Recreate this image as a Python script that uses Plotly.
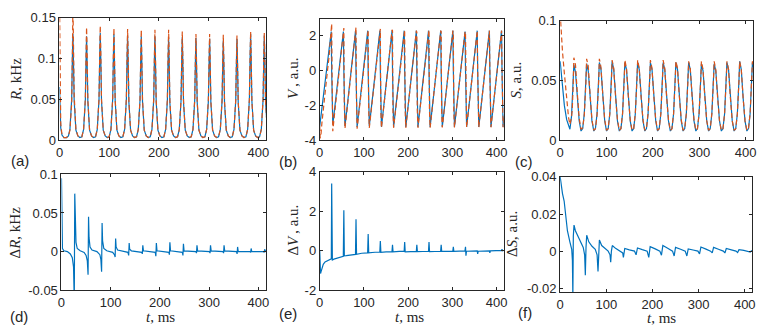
import plotly.graph_objects as go
from plotly.subplots import make_subplots

# --- data ------------------------------------------------------------------
# spike times of the oscillation (ms) and sample offsets around each spike
spike_t = [27.0, 54.5, 82.0, 109.5, 137.0, 164.5, 192.0, 219.5, 247.0,
           274.5, 302.0, 329.5, 357.0, 384.5, 412.0]
offsets = [-6, -2.5, -1, 0, 1, 2.5, 6, 10, 14, 18]
t_start = [0, 1, 2.5, 5, 9, 14, 18]

# R (kHz): first row = t_start, then one row per spike (at offsets)
r_blue = [
    [0.065, 0.035, 0.015, 0.006, 0.003, 0.003, 0.005],
    [0.013, 0.050, 0.104, 0.130, 0.100, 0.048, 0.012, 0.005, 0.003, 0.004],
    [0.013, 0.049, 0.101, 0.127, 0.098, 0.047, 0.012, 0.005, 0.003, 0.004],
    [0.013, 0.050, 0.105, 0.131, 0.101, 0.048, 0.012, 0.005, 0.003, 0.004],
    [0.013, 0.050, 0.104, 0.130, 0.100, 0.048, 0.012, 0.005, 0.003, 0.004],
    [0.013, 0.049, 0.102, 0.128, 0.099, 0.047, 0.012, 0.005, 0.003, 0.004],
    [0.013, 0.049, 0.101, 0.127, 0.098, 0.047, 0.012, 0.005, 0.003, 0.004],
    [0.013, 0.049, 0.101, 0.127, 0.098, 0.047, 0.012, 0.005, 0.003, 0.004],
    [0.013, 0.048, 0.100, 0.126, 0.097, 0.046, 0.012, 0.005, 0.003, 0.004],
    [0.013, 0.048, 0.100, 0.126, 0.097, 0.046, 0.012, 0.005, 0.003, 0.004],
    [0.013, 0.048, 0.099, 0.125, 0.096, 0.046, 0.012, 0.005, 0.003, 0.004],
    [0.013, 0.048, 0.098, 0.124, 0.096, 0.046, 0.012, 0.005, 0.003, 0.004],
    [0.013, 0.047, 0.097, 0.122, 0.094, 0.045, 0.012, 0.005, 0.003, 0.004],
    [0.013, 0.048, 0.098, 0.124, 0.096, 0.046, 0.012, 0.005, 0.003, 0.004],
    [0.013, 0.050, 0.104, 0.130, 0.100, 0.048, 0.012, 0.005, 0.003, 0.004],
    [0.013, 0.049, 0.102, 0.128, 0.099, 0.047, 0.012, 0.005, 0.003, 0.004],
]
r_orange = [
    [0.170, 0.070, 0.020, 0.006, 0.003, 0.003, 0.005],
    [0.012, 0.045, 0.110, 0.165, 0.125, 0.055, 0.013, 0.005, 0.003, 0.004],
    [0.013, 0.051, 0.108, 0.138, 0.108, 0.050, 0.012, 0.005, 0.003, 0.004],
    [0.013, 0.051, 0.110, 0.140, 0.110, 0.050, 0.012, 0.005, 0.003, 0.004],
    [0.013, 0.051, 0.108, 0.137, 0.107, 0.050, 0.012, 0.005, 0.003, 0.004],
    [0.013, 0.051, 0.107, 0.136, 0.106, 0.049, 0.012, 0.005, 0.003, 0.004],
    [0.013, 0.050, 0.106, 0.135, 0.105, 0.049, 0.012, 0.005, 0.003, 0.004],
    [0.013, 0.050, 0.106, 0.135, 0.105, 0.049, 0.012, 0.005, 0.003, 0.004],
    [0.013, 0.050, 0.106, 0.135, 0.105, 0.049, 0.012, 0.005, 0.003, 0.004],
    [0.013, 0.050, 0.105, 0.133, 0.104, 0.048, 0.012, 0.005, 0.003, 0.004],
    [0.013, 0.050, 0.103, 0.130, 0.101, 0.048, 0.012, 0.005, 0.003, 0.004],
    [0.013, 0.050, 0.103, 0.130, 0.101, 0.048, 0.012, 0.005, 0.003, 0.004],
    [0.013, 0.049, 0.102, 0.129, 0.100, 0.047, 0.012, 0.005, 0.003, 0.004],
    [0.013, 0.049, 0.101, 0.128, 0.100, 0.047, 0.012, 0.005, 0.003, 0.004],
    [0.013, 0.050, 0.105, 0.133, 0.104, 0.048, 0.012, 0.005, 0.003, 0.004],
    [0.013, 0.050, 0.103, 0.131, 0.102, 0.048, 0.012, 0.005, 0.003, 0.004],
]

# V (a.u.)
v_blue = [
    [-3.20, -2.99, -2.68, -2.15, -1.31, -0.26, 0.58],
    [1.21, 1.95, 2.25, 0.00, -2.30, -3.10, -2.35, -1.45, -0.55, 0.35],
    [1.10, 1.95, 2.25, 0.00, -2.40, -3.20, -2.42, -1.52, -0.62, 0.28],
    [1.08, 1.95, 2.30, 0.00, -2.40, -3.25, -2.45, -1.55, -0.65, 0.25],
    [1.05, 1.93, 2.30, 0.00, -2.40, -3.20, -2.42, -1.52, -0.62, 0.28],
    [1.08, 1.95, 2.30, 0.00, -2.40, -3.25, -2.45, -1.55, -0.65, 0.25],
    [1.05, 1.93, 2.30, 0.00, -2.40, -3.25, -2.45, -1.55, -0.65, 0.25],
    [1.05, 1.93, 2.30, 0.00, -2.40, -3.25, -2.45, -1.55, -0.65, 0.25],
    [1.05, 1.93, 2.30, 0.00, -2.40, -3.25, -2.45, -1.55, -0.65, 0.25],
    [1.05, 1.93, 2.30, 0.00, -2.40, -3.25, -2.45, -1.55, -0.65, 0.25],
    [1.05, 1.93, 2.30, 0.00, -2.40, -3.25, -2.45, -1.55, -0.65, 0.25],
    [1.05, 1.93, 2.30, 0.00, -2.40, -3.25, -2.45, -1.55, -0.65, 0.25],
    [1.05, 1.90, 2.25, 0.00, -2.40, -3.25, -2.45, -1.55, -0.65, 0.25],
    [1.05, 1.93, 2.30, 0.00, -2.40, -3.25, -2.45, -1.55, -0.65, 0.25],
    [1.05, 1.93, 2.30, 0.00, -2.40, -3.25, -2.45, -1.55, -0.65, 0.25],
    [1.05, 1.93, 2.30, 0.00, -2.40, -3.25, -2.45, -1.55, -0.65, 0.25],
]
v_orange = [
    [-3.20, -3.90, -3.78, -3.00, -1.93, -0.78, 0.11],
    [0.77, 1.75, 2.30, 2.70, -0.50, -3.50, -2.62, -1.68, -0.76, 0.14],
    [0.86, 1.80, 2.30, 2.45, -1.80, -3.35, -2.55, -1.63, -0.72, 0.18],
    [0.90, 1.85, 2.35, 2.50, -1.60, -3.35, -2.55, -1.63, -0.72, 0.18],
    [0.95, 1.85, 2.30, 2.35, -2.10, -3.30, -2.50, -1.60, -0.70, 0.20],
    [1.00, 1.90, 2.35, 2.40, -2.20, -3.30, -2.50, -1.60, -0.70, 0.20],
    [1.00, 1.90, 2.35, 2.30, -2.30, -3.30, -2.50, -1.60, -0.70, 0.20],
    [1.00, 1.90, 2.35, 2.35, -2.25, -3.30, -2.48, -1.58, -0.68, 0.22],
    [1.03, 1.92, 2.30, 2.20, -2.30, -3.30, -2.48, -1.58, -0.68, 0.22],
    [1.03, 1.92, 2.35, 2.35, -2.25, -3.30, -2.48, -1.58, -0.68, 0.22],
    [1.03, 1.92, 2.30, 2.25, -2.30, -3.28, -2.47, -1.57, -0.67, 0.23],
    [1.04, 1.92, 2.30, 2.20, -2.35, -3.28, -2.47, -1.57, -0.67, 0.23],
    [1.04, 1.92, 2.25, 2.10, -2.40, -3.28, -2.47, -1.57, -0.67, 0.23],
    [1.04, 1.92, 2.30, 0.00, -2.60, -3.28, -2.47, -1.57, -0.67, 0.23],
    [1.05, 1.93, 2.30, 0.00, -2.50, -3.27, -2.46, -1.56, -0.66, 0.24],
    [1.05, 1.93, 2.30, 0.10, -2.40, -3.27, -2.46, -1.56, -0.66, 0.24],
]

# S (a.u.)
s_blue = [
    [0.066, 0.062, 0.055, 0.044, 0.029, 0.017, 0.011],
    [0.009, 0.020, 0.030, 0.040, 0.049, 0.063, 0.057, 0.034, 0.016, 0.0075],
    [0.0095, 0.022, 0.032, 0.041, 0.050, 0.064, 0.058, 0.035, 0.016, 0.0075],
    [0.0095, 0.022, 0.032, 0.041, 0.050, 0.065, 0.059, 0.035, 0.016, 0.0075],
    [0.0095, 0.022, 0.032, 0.041, 0.050, 0.066, 0.059, 0.035, 0.016, 0.0075],
    [0.0095, 0.022, 0.032, 0.041, 0.050, 0.065, 0.059, 0.035, 0.016, 0.0075],
    [0.0095, 0.022, 0.032, 0.041, 0.050, 0.065, 0.059, 0.035, 0.016, 0.0075],
    [0.0095, 0.022, 0.032, 0.041, 0.050, 0.065, 0.059, 0.035, 0.016, 0.0075],
    [0.0095, 0.022, 0.032, 0.041, 0.050, 0.065, 0.059, 0.035, 0.016, 0.0075],
    [0.0095, 0.022, 0.032, 0.041, 0.050, 0.065, 0.059, 0.035, 0.016, 0.0075],
    [0.0095, 0.022, 0.032, 0.041, 0.050, 0.065, 0.059, 0.035, 0.016, 0.0075],
    [0.0095, 0.022, 0.032, 0.041, 0.050, 0.064, 0.058, 0.035, 0.016, 0.0075],
    [0.0095, 0.022, 0.032, 0.041, 0.050, 0.064, 0.058, 0.035, 0.016, 0.0075],
    [0.0095, 0.022, 0.032, 0.041, 0.050, 0.065, 0.059, 0.035, 0.016, 0.0075],
    [0.0095, 0.022, 0.032, 0.041, 0.050, 0.066, 0.059, 0.035, 0.016, 0.0075],
    [0.0095, 0.022, 0.032, 0.041, 0.050, 0.065, 0.059, 0.035, 0.016, 0.0075],
]
s_orange = [
    [0.106, 0.099, 0.089, 0.074, 0.056, 0.032, 0.019],
    [0.013, 0.019, 0.025, 0.033, 0.045, 0.069, 0.063, 0.039, 0.018, 0.009],
    [0.010, 0.021, 0.030, 0.038, 0.048, 0.068, 0.062, 0.038, 0.017, 0.008],
    [0.0095, 0.021, 0.031, 0.039, 0.049, 0.068, 0.061, 0.037, 0.017, 0.008],
    [0.0095, 0.022, 0.031, 0.040, 0.049, 0.067, 0.060, 0.036, 0.017, 0.008],
    [0.0095, 0.022, 0.032, 0.040, 0.050, 0.067, 0.060, 0.036, 0.017, 0.008],
    [0.0095, 0.022, 0.032, 0.040, 0.050, 0.067, 0.060, 0.036, 0.017, 0.008],
    [0.0095, 0.022, 0.032, 0.040, 0.050, 0.067, 0.060, 0.036, 0.017, 0.008],
    [0.0095, 0.022, 0.032, 0.040, 0.050, 0.067, 0.060, 0.036, 0.017, 0.008],
    [0.0095, 0.022, 0.032, 0.041, 0.050, 0.066, 0.060, 0.036, 0.017, 0.008],
    [0.0095, 0.022, 0.032, 0.041, 0.050, 0.066, 0.060, 0.036, 0.017, 0.008],
    [0.0095, 0.022, 0.032, 0.041, 0.050, 0.066, 0.059, 0.035, 0.016, 0.008],
    [0.0095, 0.022, 0.032, 0.041, 0.050, 0.066, 0.059, 0.035, 0.016, 0.008],
    [0.0095, 0.022, 0.032, 0.041, 0.050, 0.066, 0.059, 0.035, 0.016, 0.008],
    [0.0095, 0.022, 0.032, 0.041, 0.050, 0.066, 0.059, 0.035, 0.016, 0.008],
    [0.0095, 0.022, 0.032, 0.041, 0.050, 0.066, 0.059, 0.035, 0.016, 0.008],
]

# differences (bottom row)
dr_t = [0, 0.8, 2, 5, 12, 18, 22, 24.5, 26, 27, 28, 29.5, 32, 38, 46, 50, 52.5,
        54, 55, 56, 58, 62, 72, 78, 80, 81.5, 82.5, 83.5, 86, 92, 104, 107.5,
        109, 110, 111, 114, 125, 135, 136.5, 137.5, 138.5, 142, 163, 164.2,
        165.2, 166.5, 190.5, 191.7, 192.7, 194, 218, 219.2, 220.2, 221.5, 245.5,
        246.7, 247.7, 249, 273, 274.2, 275.2, 276.5, 300.5, 301.7, 302.7, 304,
        328, 329.2, 330.2, 331.5, 355.5, 356.7, 357.7, 359, 383, 384.2, 385.2,
        386.5, 410.5, 411.7, 412.7, 414, 416]
dr_val = [0.095, 0.030, 0.004, 0.001, 0.0, -0.003, -0.008, -0.020, -0.065, 0.075,
          0.035, 0.012, 0.004, 0.001, -0.001, -0.005, -0.012, -0.030, 0.045,
          0.018, 0.006, 0.002, 0.0, -0.004, -0.010, -0.026, 0.037, 0.014, 0.004,
          0.001, -0.001, -0.004, -0.007, 0.017, 0.006, 0.002, 0.0, -0.001,
          -0.005, 0.011, 0.003, 0.001, -0.001, -0.003, 0.008, 0.001, -0.001,
          -0.006, 0.011, 0.001, -0.001, -0.004, 0.012, 0.001, -0.001, -0.005,
          0.010, 0.001, 0.0, -0.002, 0.008, 0.001, 0.0, -0.002, 0.008, 0.001,
          0.0, -0.002, 0.008, 0.001, 0.0, -0.003, 0.006, 0.0, 0.0, -0.001,
          0.004, 0.0, 0.0, -0.001, 0.003, 0.0, 0.001]

dv_t = [0, 0.7, 1.8, 3, 5, 8, 12, 18, 25, 26.2, 27, 27.8, 28.6, 32, 40, 53.3,
        54.5, 55.6, 60, 70, 80.8, 82, 83.2, 95, 108.3, 109.5, 110.7, 125, 135.8,
        137, 138.2, 150, 163.3, 164.5, 165.7, 180, 190.8, 192, 193.2, 218.3,
        219.5, 220.7, 245.8, 247, 248.2, 273.3, 274.5, 275.7, 300.8, 302, 303.2,
        328.3, 329.5, 330.5, 331.7, 356, 357, 358.2, 383.5, 384.5, 385.7, 411,
        412, 413, 416]
dv_val = [0.0, -0.80, -1.15, -1.05, -0.85, -0.68, -0.56, -0.48, -0.42, -0.40,
          3.40, -0.35, -0.46, -0.42, -0.36, -0.28, 2.05, -0.25, -0.24, -0.20,
          -0.18, 1.60, -0.17, -0.12, -0.10, 0.85, -0.10, -0.07, -0.06, 0.50,
          -0.07, -0.05, -0.04, 0.30, -0.05, -0.03, -0.03, 0.45, -0.05, -0.03,
          0.30, -0.04, -0.02, 0.45, -0.04, -0.02, 0.30, -0.03, -0.01, 0.20,
          -0.03, 0.0, 0.20, -0.25, -0.02, 0.0, -0.15, -0.02, 0.0, -0.10, 0.0,
          0.02, 0.08, 0.0, 0.02]

ds_t = [0, 2, 5, 8.6, 12, 15.7, 21, 25, 26.5, 27.5, 28.5, 30, 33, 38.6, 45, 50,
        53, 54.5, 56, 57.5, 62, 69, 76, 80, 82, 83.5, 85, 90, 98, 104, 108,
        109.5, 111, 113, 120, 130, 135.5, 137, 138.5, 140, 150, 161, 164.5, 166,
        167.5, 178, 188.5, 192, 193.5, 195, 206, 216, 219.5, 221, 222.5, 233,
        243.5, 247, 248.5, 250, 261, 271, 274.5, 276, 277.5, 288, 298.5, 302,
        303.5, 305, 316, 326, 329.5, 331, 332.5, 343, 353.5, 357, 358.5, 360,
        371, 381, 384.5, 386, 387.5, 398, 408.5, 412, 413.5, 416]
ds_val = [0.040, 0.036, 0.031, 0.027, 0.020, 0.011, 0.005, 0.001, -0.005,
          -0.025, 0.008, 0.014, 0.011, 0.0078, 0.005, 0.002, -0.002, -0.013,
          0.002, 0.0086, 0.005, 0.0026, 0.001, -0.002, -0.011, 0.0, 0.006, 0.003,
          0.0014, 0.0, -0.002, -0.006, 0.0, 0.003, 0.0015, 0.0, -0.001, -0.0034,
          0.0, 0.0014, 0.0007, 0.0, -0.002, 0.0, 0.0017, 0.0008, 0.0, -0.0034,
          0.0, 0.0024, 0.0012, 0.0, -0.0022, 0.0, 0.003, 0.0015, 0.0, -0.0026,
          0.0, 0.002, 0.001, 0.0, -0.0026, 0.0, 0.0012, 0.0006, 0.0, -0.0015,
          0.0, 0.0022, 0.0011, 0.0, -0.001, 0.0, 0.002, 0.001, 0.0, -0.001, 0.0,
          0.0014, 0.0007, 0.0, -0.0008, 0.0, 0.0008, 0.0004, 0.0, -0.0005, 0.0,
          0.0003]

# --- figure ----------------------------------------------------------------
t_top = t_start + [tp + o for tp in spike_t for o in offsets]


def flat(rows):
    return [v for row in rows for v in row]


BLUE = "#0072BD"
ORANGE = "#D95319"
AX = "#262626"
PAD = 8                      # default body margin of the html page
W, H = 769 - PAD, 334 - PAD  # figure size so the page fills the window


def px(x):
    return (x - PAD) / W


def py(y):
    return 1 - (y - PAD) / H


fig = make_subplots(rows=2, cols=3)

top = [(r_blue, r_orange), (v_blue, v_orange), (s_blue, s_orange)]
for i, (b, o) in enumerate(top):
    fig.add_trace(go.Scatter(x=t_top, y=flat(b), mode="lines",
                             line=dict(color=BLUE, width=1.2)), row=1, col=i + 1)
    fig.add_trace(go.Scatter(x=t_top, y=flat(o), mode="lines",
                             line=dict(color=ORANGE, width=1.2, dash="5px,3px")),
                  row=1, col=i + 1)

for i, (tx, ty) in enumerate([(dr_t, dr_val), (dv_t, dv_val), (ds_t, ds_val)]):
    fig.add_trace(go.Scatter(x=tx, y=ty, mode="lines",
                             line=dict(color=BLUE, width=1.2)), row=2, col=i + 1)

# panel boxes in window pixels: (left, right, top, bottom)
boxes = [(56, 265, 10.7, 139), (319, 505, 11.7, 139), (562, 757, 14, 139),
         (58, 265, 175, 296.5), (319, 505, 172.3, 296.7), (562, 756, 177.7, 298.3)]
yranges = [[0, 0.15], [-4, 3], [0, 0.1], [-0.05, 0.1], [-2, 4], [-0.022, 0.04]]
yticks = [([0, 0.05, 0.1, 0.15], ["0", "0.05", "0.1", "0.15"]),
          ([-4, -2, 0, 2], ["-4", "-2", "0", "2"]),
          ([0, 0.05, 0.1], ["0", "0.05", "0.1"]),
          ([-0.05, 0, 0.05, 0.1], ["-0.05", "0", "0.05", "0.1"]),
          ([-2, 0, 2, 4], ["-2", "0", "2", "4"]),
          ([-0.02, 0, 0.02, 0.04], ["-0.02", "0", "0.02", "0.04"])]

tickfont = dict(family="Liberation Sans, Arial, sans-serif", size=13, color=AX)
common = dict(showline=True, linecolor=AX, linewidth=1, mirror="allticks",
              ticks="inside", ticklen=3, tickcolor=AX, showgrid=False,
              zeroline=False, tickfont=tickfont)

for k, (l, r, t, b) in enumerate(boxes):
    sfx = "" if k == 0 else str(k + 1)
    fig.layout["xaxis" + sfx].update(domain=[px(l), px(r)], range=[0, 416],
                                     tickvals=[0, 100, 200, 300, 400], **common)
    fig.layout["yaxis" + sfx].update(domain=[py(b), py(t)],
                                     range=yranges[k], tickvals=yticks[k][0],
                                     ticktext=yticks[k][1], **common)

serif = dict(family="Liberation Serif, Times New Roman, serif", size=15, color=AX)
sans = dict(family="Liberation Sans, Arial, sans-serif", size=15, color=AX)

ytitles = [("<i>R</i>, kHz", 12, 75), ("<i>V</i>\u2009, a.u.", 292, 75),
           ("<i>S</i>, a.u.", 517, 76), ("Δ<i>R</i>, kHz", 11, 236),
           ("Δ<i>V</i>\u2009, a.u.", 292, 234), ("Δ<i>S</i>, a.u.", 514, 238)]
for txt, x, y in ytitles:
    fig.add_annotation(text=txt, x=px(x), y=py(y), xref="paper", yref="paper",
                       textangle=-90, showarrow=False, font=serif, borderpad=0,
                       xanchor="center", yanchor="middle")

for x, y in [(158, 325), (410, 325), (664, 326)]:
    fig.add_annotation(text="<i>t</i>, ms", x=px(x), y=py(y), xref="paper",
                       yref="paper", showarrow=False, font=serif, borderpad=0,
                       xanchor="center", yanchor="middle")

labels = [("(a)", 16, 160), ("(b)", 287, 162), ("(c)", 525, 162),
          ("(d)", 15, 324), ("(e)", 287, 321), ("(f)", 526, 320)]
for txt, x, y in labels:
    fig.add_annotation(text=txt, x=px(x), y=py(y), xref="paper", yref="paper",
                       showarrow=False, font=sans, borderpad=0,
                       xanchor="center", yanchor="middle")

fig.update_layout(width=W, height=H, margin=dict(l=0, r=0, t=0, b=0),
                  paper_bgcolor="white", plot_bgcolor="white", showlegend=False)

fig.write_html("out.html")
